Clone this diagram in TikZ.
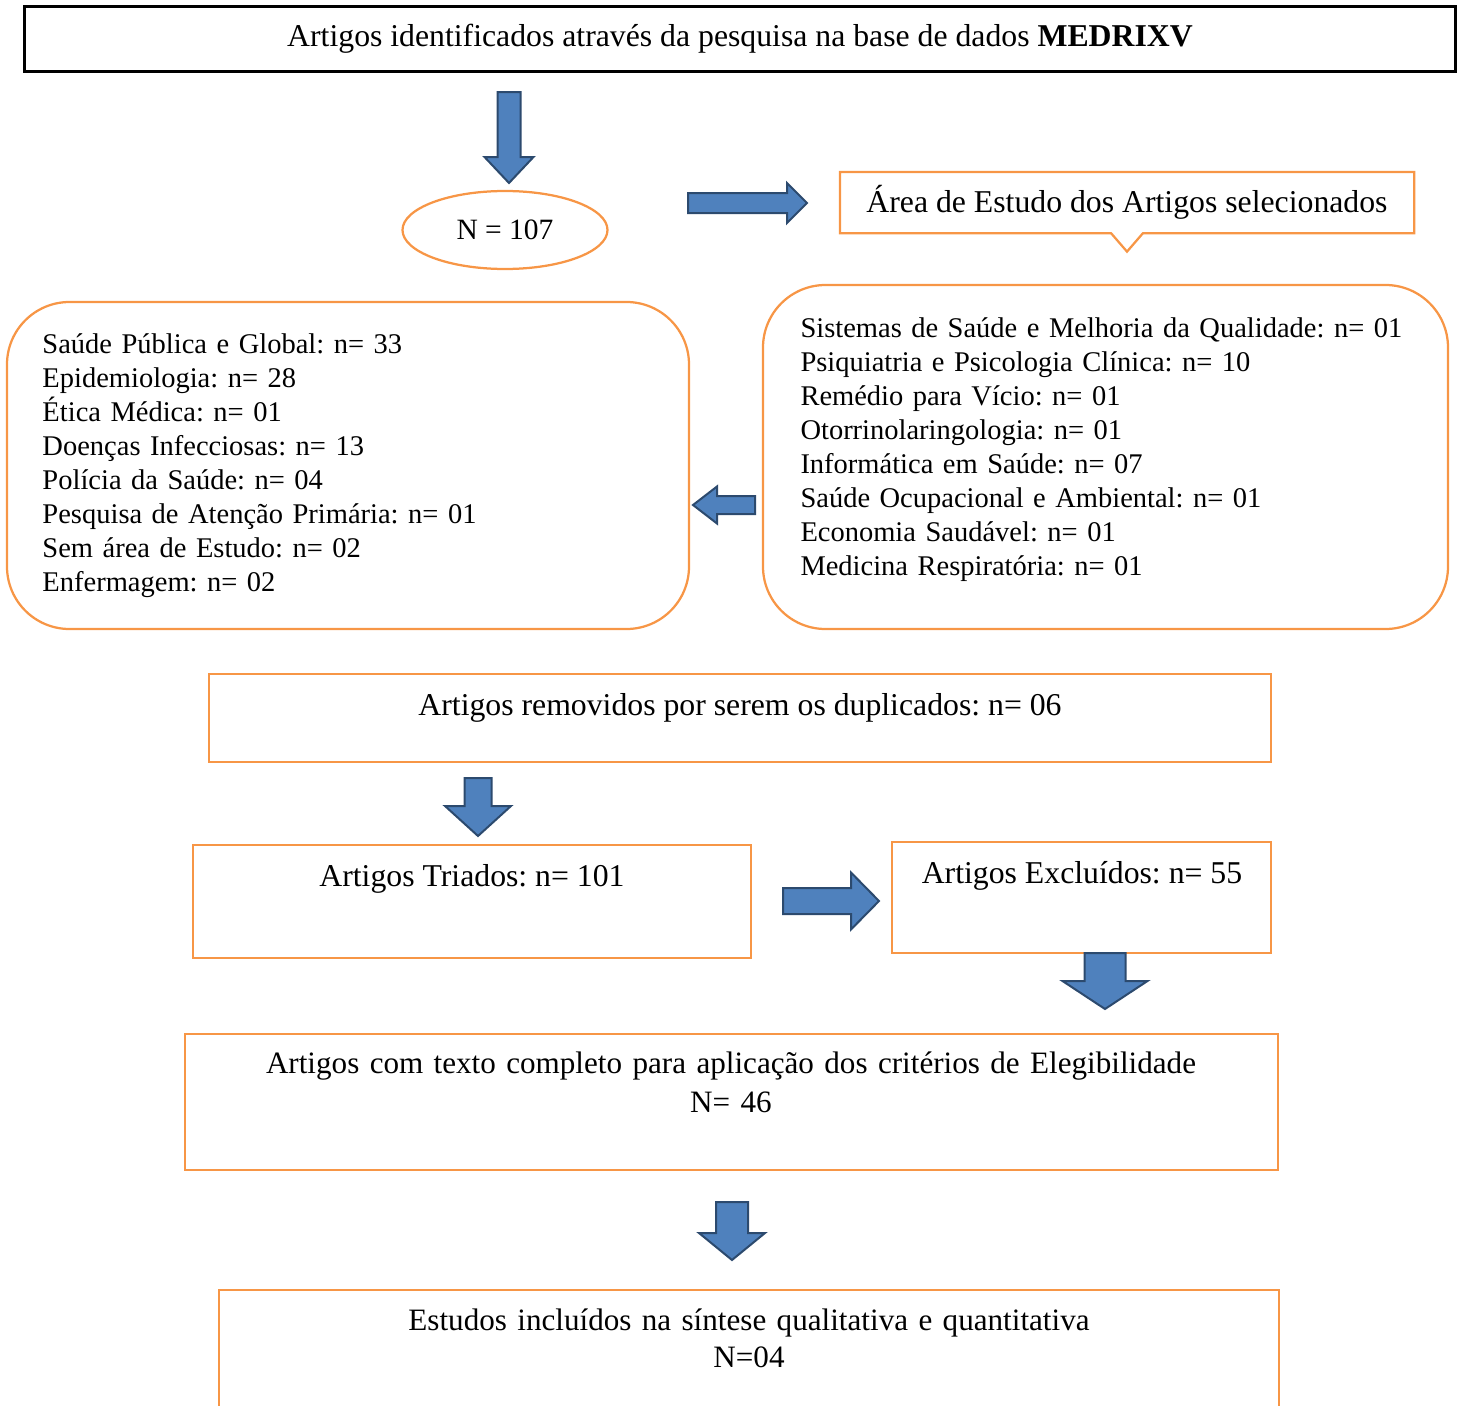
\documentclass[tikz,border=0pt]{standalone}
\usepackage{fontspec}
\setmainfont{Liberation Serif}
\usepackage{xcolor}
\usepackage{tikz}
\usetikzlibrary{calc,positioning,shapes}
\frenchspacing
\definecolor{prorange}{HTML}{F79646}
\definecolor{prblue}{HTML}{4F81BD}
\definecolor{prnavy}{HTML}{2C4A6E}
\newcommand{\prfont}{\fontsize{12.7pt}{15.6pt}\selectfont}
\newcommand{\prlistfont}{\fontsize{11.4pt}{13.6pt}\selectfont}
\tikzset{
  prtitle/.style={
    rectangle, draw=black, line width=1.2pt,
    minimum width=572pt, minimum height=25.6pt, inner sep=0pt, font=\prfont
  },
  prbox/.style={rectangle, draw=prorange, line width=0.9pt, inner sep=0pt},
  prround/.style={prbox, rounded corners=25pt},
  proval/.style={
    ellipse, draw=prorange, line width=0.9pt, minimum width=82pt, minimum height=31.2pt,
    inner sep=0pt, font=\fontsize{11.8pt}{13.6pt}\selectfont
  },
  prtext/.style={anchor=base, inner sep=0pt, font=\prfont},
  prlines/.style={anchor=base, inner sep=0pt, align=center, text width=440pt},
  prlist/.style={anchor=base west, inner sep=0pt, align=left, text width=260pt, font=\prlistfont},
  prarrow/.style={fill=prblue, draw=prnavy, line width=0.8pt, line join=miter}
}
% block arrow: from, tip, shaft half width, head half width, head length
\newcommand{\blockarrow}[5]{%
  \coordinate (ba) at ($(#2)!#5!(#1)$);
  \draw[prarrow] ($(#1)!#3!90:(#2)$) -- ($(ba)!#3!90:(#2)$) -- ($(ba)!#4!90:(#2)$)
    -- (#2) -- ($(ba)!#4!-90:(#2)$) -- ($(ba)!#3!-90:(#2)$) -- ($(#1)!#3!-90:(#2)$) -- cycle;}

\begin{document}
\begin{tikzpicture}[x=0.4pt,y=-0.4pt]
  \useasboundingbox (0,0) rectangle (1461,1406);
  \clip (0,0) rectangle (1461,1406);

  % search
  \node[prtitle] (base) at (740,39) {Artigos identificados através da pesquisa na base de dados \textbf{MEDRIXV}};
  \node[proval] (total) at (505,230) {N = 107};
  \node[prbox, draw=none, minimum width=228.8pt, minimum height=23.6pt, font=\prfont] (area) at (1127,202.5) {Área de Estudo dos Artigos selecionados};
  \draw[prorange, line width=0.9pt] (area.north west) -- (area.north east) -- (area.south east)
    -- ($(area.south)+(16,0)$) -- ($(area.south)+(0,18.5)$) -- ($(area.south)+(-16,0)$)
    -- (area.south west) -- cycle;

  % study areas
  \node[prround, minimum width=272.8pt, minimum height=130.8pt] (areasA) at (348,465.5) {};
  \node[prlist] (listA) at (42,353) {Saúde Pública e Global: n= 33\\
    Epidemiologia: n= 28\\
    Ética Médica: n= 01\\
    Doenças Infecciosas: n= 13\\
    Polícia da Saúde: n= 04\\
    Pesquisa de Atenção Primária: n= 01\\
    Sem área de Estudo: n= 02\\
    Enfermagem: n= 02};
  \node[prround, minimum width=274pt, minimum height=137.6pt] (areasB) at (1105.5,457) {};
  \node[prlist] (listB) at (800,337) {Sistemas de Saúde e Melhoria da Qualidade: n= 01\\
    Psiquiatria e Psicologia Clínica: n= 10\\
    Remédio para Vício: n= 01\\
    Otorrinolaringologia: n= 01\\
    Informática em Saúde: n= 07\\
    Saúde Ocupacional e Ambiental: n= 01\\
    Economia Saudável: n= 01\\
    Medicina Respiratória: n= 01};

  % screening
  \node[prbox, minimum width=424.8pt, minimum height=35.2pt] (dup) at (740,718) {};
  \node[prtext] (duptxt) at (740,715) {Artigos removidos por serem os duplicados: n= 06};
  \node[prbox, minimum width=223.2pt, minimum height=45.2pt] (screen) at (472,901.5) {};
  \node[prtext] (screentxt) at (472,886) {Artigos Triados: n= 101};
  \node[prbox, minimum width=151.6pt, minimum height=44.4pt] (excl) at (1081.5,897.5) {};
  \node[prtext] (excltxt) at (1082,883) {Artigos Excluídos: n= 55};
  \node[prbox, minimum width=437.2pt, minimum height=54.4pt] (elig) at (731.5,1102) {};
  \node[prlines, font={\fontsize{12.45pt}{15.6pt}\selectfont}] (eligtxt) at (731,1073)
    {Artigos com texto completo para aplicação dos critérios de Elegibilidade\\N= 46};
  \node[prbox, minimum width=424pt, minimum height=64pt] (incl) at (749,1370) {};
  \node[prlines, font={\fontsize{12.45pt}{14.8pt}\selectfont}] (incltxt) at (749,1330)
    {Estudos incluídos na síntese qualitativa e quantitativa\\N=04};

  % arrows
  \coordinate (s1) at (509,92);   \coordinate (e1) at (509,183);
  \coordinate (s2) at (688,203);  \coordinate (e2) at (807,203);
  \coordinate (s3) at (755,505);  \coordinate (e3) at (693,505);
  \coordinate (s4) at (478,778);  \coordinate (e4) at (478,836);
  \coordinate (s5) at (783,901);  \coordinate (e5) at (879,901);
  \coordinate (s6) at (1105,953); \coordinate (e6) at (1105,1009);
  \coordinate (s7) at (732,1202); \coordinate (e7) at (732,1260);
  \blockarrow{s1}{e1}{4.6pt}{9.8pt}{10.4pt}
  \blockarrow{s2}{e2}{4pt}{8pt}{8pt}
  \blockarrow{s3}{e3}{3.6pt}{7.4pt}{9.6pt}
  \blockarrow{s4}{e4}{5.4pt}{13.2pt}{12pt}
  \blockarrow{s5}{e5}{5.2pt}{11.4pt}{11.2pt}
  \blockarrow{s6}{e6}{8.2pt}{17pt}{11.2pt}
  \blockarrow{s7}{e7}{6.4pt}{13.2pt}{10.8pt}
\end{tikzpicture}
\end{document}
